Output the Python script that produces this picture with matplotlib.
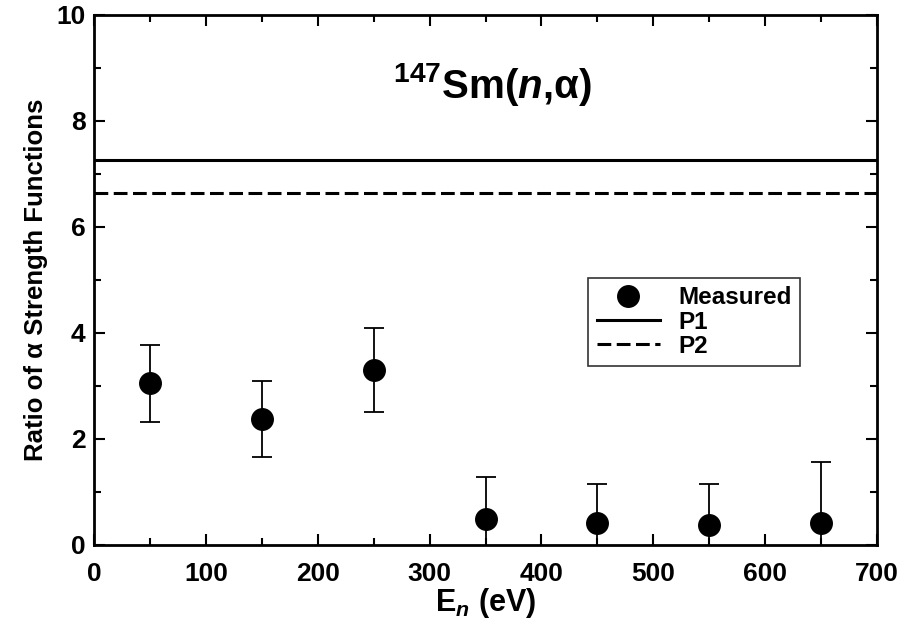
import matplotlib.pyplot as plt
from matplotlib.lines import Line2D

plt.rcParams['font.family'] = ['Liberation Sans', 'DejaVu Sans']
plt.rcParams['font.weight'] = 'bold'
plt.rcParams['axes.labelweight'] = 'bold'
plt.rcParams['mathtext.fontset'] = 'custom'
plt.rcParams['mathtext.rm'] = 'Liberation Sans:bold'
plt.rcParams['mathtext.it'] = 'Liberation Sans:bold:italic'
plt.rcParams['mathtext.bf'] = 'Liberation Sans:bold'

# Datos medidos
energy = [50, 150, 250, 350, 450, 550, 650]
ratio = [3.06, 2.38, 3.30, 0.49, 0.41, 0.38, 0.41]
err_low = [0.74, 0.72, 0.79, 0.70, 0.70, 0.70, 0.70]
err_high = [0.71, 0.71, 0.79, 0.79, 0.74, 0.77, 1.16]

# Predicciones
p1_value = 7.27
p2_value = 6.65
x_range = [0, 700]

dash = (0, (4.5, 1.8))

fig = plt.figure(figsize=(8.99, 6.25), dpi=100)
ax = fig.add_axes([0.1046, 0.128, 0.8709, 0.848])

ax.errorbar(energy, ratio, yerr=[err_low, err_high], fmt='o', color='black',
            markersize=15.5, ecolor='black', elinewidth=1.3, capsize=7.5, capthick=1.3,
            zorder=3)
ax.plot(x_range, [p1_value, p1_value], color='black', lw=2.2)
ax.plot(x_range, [p2_value, p2_value], color='black', lw=2.2, ls=dash)

ax.set_xlim(0, 700)
ax.set_ylim(0, 10)
ax.set_xticks(range(0, 701, 100))
ax.set_xticks(range(50, 700, 100), minor=True)
ax.set_yticks(range(0, 11, 2))
ax.set_yticks(range(1, 10, 2), minor=True)
ax.tick_params(which='both', direction='in', top=True, right=True, width=1.5)
ax.tick_params(which='major', length=8, labelsize=19)
ax.tick_params(axis='x', which='major', pad=12)
ax.tick_params(axis='y', which='major', pad=6)
ax.tick_params(which='minor', length=5)
for s in ax.spines.values():
    s.set_linewidth(2)

ax.set_xlabel(r'E$_{\mathit{n}}$ (eV)', fontsize=22, labelpad=0)
ax.set_ylabel('Ratio of α Strength Functions', fontsize=18.5, labelpad=6)

ax.text(356, 8.43, r'$^{147}$Sm($\mathit{n}$,α)', fontsize=29, ha='center', va='baseline')

handles = [
    Line2D([], [], marker='o', ls='none', color='black', markersize=15.5),
    Line2D([], [], color='black', lw=2.2),
    Line2D([], [], color='black', lw=2.2, ls=dash),
]
labels = ['Measured', 'P1', 'P2']
leg = ax.legend(handles, labels, loc='upper left', bbox_to_anchor=(0.631, 0.504),
                borderaxespad=0, fontsize=17.5, frameon=True, fancybox=False, edgecolor='black',
                handlelength=2.6, borderpad=0.35, labelspacing=0.05, handletextpad=0.75)
leg.get_frame().set_linewidth(1.2)

fig.savefig('out.png', dpi=100)
